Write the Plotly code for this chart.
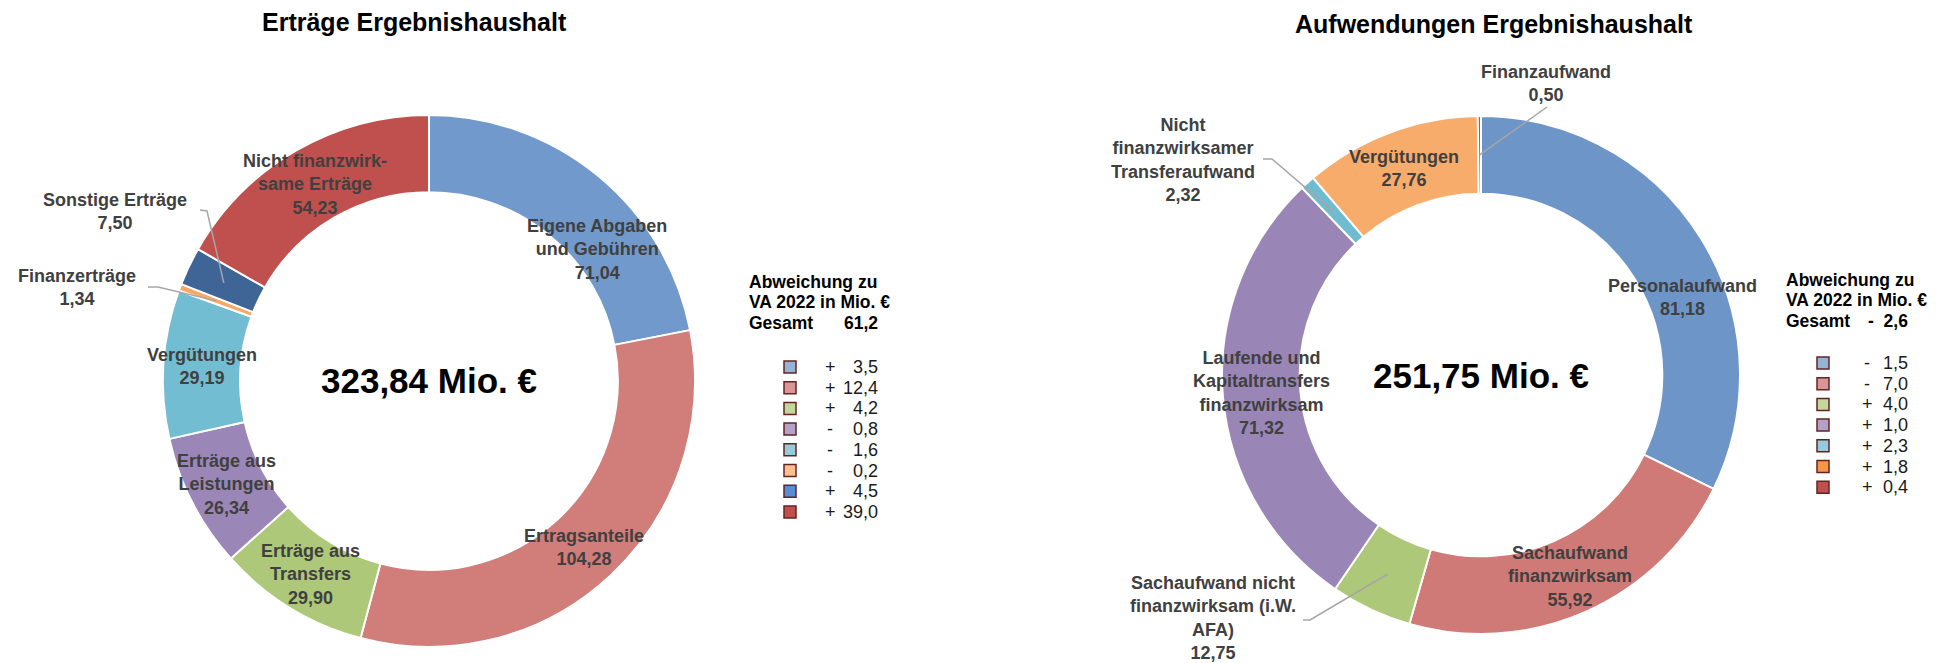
import math
import plotly.graph_objects as go

W, H = 1939, 663
FONT = "Liberation Sans, Arial, sans-serif"

# ---------------- data ----------------
left_title = "Erträge Ergebnishaushalt"
left_names = ["Eigene Abgaben<br>und Gebühren", "Ertragsanteile", "Erträge aus<br>Transfers",
              "Erträge aus<br>Leistungen", "Vergütungen", "Finanzerträge", "Sonstige Erträge",
              "Nicht finanzwirk-<br>same Erträge"]
left_values = [71.04, 104.28, 29.90, 26.34, 29.19, 1.34, 7.50, 54.23]
left_total = 323.84
left_colors = ["#7299CB", "#D17D7A", "#ADC878", "#9B86B8", "#72BDD2", "#F8A866", "#3F6496", "#C0504D"]
left_dev = [3.5, 12.4, 4.2, -0.8, -1.6, -0.2, 4.5, 39.0]
left_dev_colors = ["#95B3D7", "#D99694", "#C3D69B", "#B3A2C7", "#93CDDD", "#FAC090", "#558ED5", "#C0504D"]
left_dev_total = 61.2

right_title = "Aufwendungen Ergebnishaushalt"
right_names = ["Personalaufwand", "Sachaufwand<br>finanzwirksam",
               "Sachaufwand nicht<br>finanzwirksam (i.W.<br>AFA)",
               "Laufende und<br>Kapitaltransfers<br>finanzwirksam",
               "Nicht<br>finanzwirksamer<br>Transferaufwand", "Vergütungen", "Finanzaufwand"]
right_values = [81.18, 55.92, 12.75, 71.32, 2.32, 27.76, 0.50]
right_total = 251.75
right_colors = ["#6E95C8", "#D07A77", "#ADC878", "#9A85B7", "#6FBCD1", "#F8AC6C", "#C0504D"]
right_dev = [-1.5, -7.0, 4.0, 1.0, 2.3, 1.8, 0.4]
right_dev_colors = ["#95B3D7", "#D99694", "#C3D69B", "#B3A2C7", "#93CDDD", "#F79646", "#C0504D"]
right_dev_total = -2.6

# ---------------- layout helpers ----------------
def px(x):
    return x / W

def py(y):
    return 1 - y / H

def de(v, d=2):
    return f"{v:.{d}f}".replace(".", ",")

fig = go.Figure()
annotations = []
shapes = []
LBL = 18

def ann(x, y, text, size, color, xanchor="center"):
    annotations.append(dict(x=px(x), y=py(y), xref="paper", yref="paper", text=text,
                            showarrow=False, xanchor=xanchor, yanchor="middle",
                            font=dict(size=size, color=color, family=FONT)))

def donut(names, values, colors, total, cx, cy, r, hole, offsets, outside, title, title_xy):
    fig.add_trace(go.Pie(
        labels=[n.replace("<br>", " ") for n in names], values=values, sort=False,
        direction="clockwise", rotation=0, hole=hole, textinfo="none",
        hoverinfo="label+value", showlegend=False,
        marker=dict(colors=colors, line=dict(color="white", width=2)),
        domain=dict(x=[px(cx - r), px(cx + r)], y=[py(cy + r), py(cy - r)]),
    ))
    rmid = r * (1 + hole) / 2
    cum = 0
    for i, (n, v) in enumerate(zip(names, values)):
        a = 2 * math.pi * (cum + v / 2) / sum(values)
        cum += v
        tx, ty = cx + rmid * math.sin(a), cy - rmid * math.cos(a)
        text = f"<b>{n}<br>{de(v)}</b>"
        if i in outside:
            (lx, ly), path_pts = outside[i]
            ann(lx, ly, text, LBL, "#404040")
            pts = path_pts + [(tx, ty)]
            d = "M " + " L ".join(f"{px(a_)},{py(b_)}" for a_, b_ in pts)
            shapes.append(dict(type="path", path=d, xref="paper", yref="paper",
                               line=dict(color="#A6A6A6", width=1.5)))
        else:
            ox, oy = offsets.get(i, (0, 0))
            ann(tx + ox, ty + oy, text, LBL, "#404040")
    ann(cx, cy, f"<b>{de(total)} Mio. €</b>", 35, "black")
    ann(title_xy[0], title_xy[1], f"<b>{title}</b>", 25, "black")

def dev_legend(devs, dcolors, dtotal, hx, hy0, sqx, signx, numx, row0):
    hdr = ["Abweichung zu", "VA 2022 in Mio. €", "Gesamt"]
    for k, t in enumerate(hdr):
        ann(hx, hy0 + k * 20.5, f"<b>{t}</b>", 17.5, "black", xanchor="left")
    sgn = "-&nbsp;&nbsp;" if dtotal < 0 else ""
    ann(numx, hy0 + 2 * 20.5, f"<b>{sgn}{de(abs(dtotal), 1)}</b>", 17.5, "black", xanchor="right")
    for k, (v, c) in enumerate(zip(devs, dcolors)):
        y = row0 + k * 20.7
        shapes.append(dict(type="rect", xref="paper", yref="paper",
                           x0=px(sqx - 6), x1=px(sqx + 6), y0=py(y + 6), y1=py(y - 6),
                           fillcolor=c, line=dict(color="#632523", width=1.5)))
        ann(signx, y, "+" if v >= 0 else "-", 18, "#1a1a1a")
        ann(numx, y, de(abs(v), 1), 18, "#1a1a1a", xanchor="right")

donut(left_names, left_values, left_colors, left_total, 429, 381, 266, 0.71,
      offsets={0: (23, 44)},
      outside={5: ((77, 287), [(148, 287), (158, 287)]),
               6: ((115, 211), [(200, 210), (207, 211)])},
      title=left_title, title_xy=(414, 22))
donut(right_names, right_values, right_colors, right_total, 1481, 375, 259, 0.70,
      offsets={0: (15, 39)},
      outside={2: ((1213, 618), [(1303, 620), (1310, 620)]),
               4: ((1183, 160), [(1263, 159), (1272, 159)]),
               6: ((1546, 83), [(1547, 107)])},
      title=right_title, title_xy=(1494, 24))

dev_legend(left_dev, left_dev_colors, left_dev_total, 747, 282, 790, 830, 880, 367)
dev_legend(right_dev, right_dev_colors, right_dev_total, 1784, 280, 1823, 1867, 1910, 363)

fig.update_layout(width=W, height=H, margin=dict(l=0, r=0, t=0, b=0),
                  paper_bgcolor="white", plot_bgcolor="white",
                  annotations=annotations, shapes=shapes, font=dict(family=FONT))
fig.write_html("out.html", config={"displayModeBar": False},
               post_script="document.body.style.margin='0';document.body.style.overflow='hidden';")
